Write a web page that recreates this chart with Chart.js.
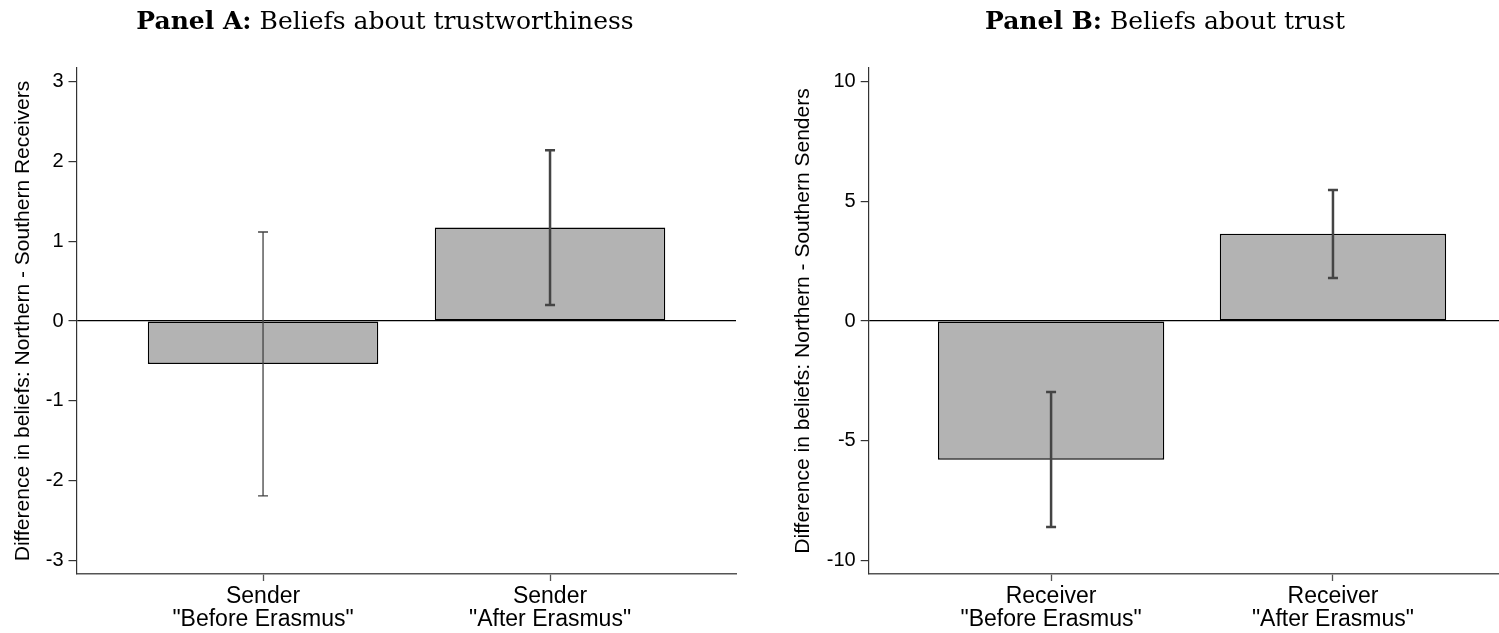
<!DOCTYPE html>
<html><head><meta charset="utf-8">
<script src="https://cdn.jsdelivr.net/npm/chart.js@4.4.1/dist/chart.umd.min.js"></script>
<style>
html,body{margin:0;padding:0;background:#fff;}
#wrap{position:relative;width:1499px;height:633px;overflow:hidden;background:#fff;}
canvas{position:absolute;top:0;}
</style></head><body>
<div id="wrap">
<canvas id="cA" width="750" height="633" style="left:0px;width:750px;height:633px"></canvas>
<canvas id="cB" width="749" height="633" style="left:750px;width:749px;height:633px"></canvas>
</div>
<script>
// ---- data ----
const positions = [1, 2];
const categoriesA = [["Sender", "\"Before Erasmus\""], ["Sender", "\"After Erasmus\""]];
const categoriesB = [["Receiver", "\"Before Erasmus\""], ["Receiver", "\"After Erasmus\""]];
const valuesA = [-0.54, 1.17];
const ciLowA = [-2.19, 0.20];
const ciHighA = [1.115, 2.14];
const valuesB = [-5.80, 3.65];
const ciLowB = [-8.61, 1.80];
const ciHighB = [-2.97, 5.47];
const yTicksA = [-3, -2, -1, 0, 1, 2, 3];
const yTicksB = [-10, -5, 0, 5, 10];
const titleA = ["Panel A:", " Beliefs about trustworthiness"];
const titleB = ["Panel B:", " Beliefs about trust"];
const yTitleA = "Difference in beliefs: Northern - Southern Receivers";
const yTitleB = "Difference in beliefs: Northern - Southern Senders";

// ---- plugins ----
const errorBarPlugin = {
  id: 'errbars',
  afterDatasetsDraw(chart, args, opts) {
    const ctx = chart.ctx, xs = chart.scales.x, ys = chart.scales.y;
    opts.lo.forEach((lo, i) => {
      const x = xs.getPixelForValue(positions[i]);
      const y1 = ys.getPixelForValue(lo), y2 = ys.getPixelForValue(opts.hi[i]);
      ctx.save();
      ctx.strokeStyle = opts.color;
      ctx.lineWidth = opts.widths[i];
      ctx.lineCap = 'butt';
      ctx.beginPath();
      ctx.moveTo(x, y1); ctx.lineTo(x, y2);
      ctx.moveTo(x - opts.cap, y1); ctx.lineTo(x + opts.cap, y1);
      ctx.moveTo(x - opts.cap, y2); ctx.lineTo(x + opts.cap, y2);
      ctx.stroke();
      ctx.restore();
    });
  }
};
const panelTitlePlugin = {
  id: 'ptitle',
  afterDraw(chart, args, opts) {
    const ctx = chart.ctx;
    ctx.save();
    const fb = 'bold ' + opts.size + 'px "DejaVu Serif"';
    const fr = opts.size + 'px "DejaVu Serif"';
    ctx.font = fb; const wb = ctx.measureText(opts.text[0]).width;
    ctx.font = fr; const wr = ctx.measureText(opts.text[1]).width;
    let x = opts.cx - (wb + wr) / 2;
    ctx.fillStyle = '#000';
    ctx.textBaseline = 'alphabetic';
    ctx.textAlign = 'left';
    ctx.font = fb; ctx.fillText(opts.text[0], x, opts.baseline);
    ctx.font = fr; ctx.fillText(opts.text[1], x + wb, opts.baseline);
    ctx.restore();
  }
};

function makeChart(id, cfg) {
  return new Chart(document.getElementById(id), {
    type: 'bar',
    data: {
      datasets: [{
        data: positions.map((p, i) => ({x: p, y: cfg.values[i]})),
        backgroundColor: '#b3b3b3',
        borderColor: '#000',
        borderWidth: 1.5,
        borderSkipped: false,
        barPercentage: 0.803,
        categoryPercentage: 1.0
      }]
    },
    plugins: [errorBarPlugin, panelTitlePlugin],
    options: {
      responsive: false,
      animation: false,
      events: [],
      layout: {padding: {top: 68, right: cfg.padRight, bottom: 0, left: 0}},
      plugins: {
        legend: {display: false},
        tooltip: {enabled: false},
        title: {display: false},
        errbars: {lo: cfg.lo, hi: cfg.hi, widths: cfg.errWidths, cap: 5, color: '#444'},
        ptitle: {text: cfg.title, cx: cfg.titleX, baseline: 29, size: 25}
      },
      scales: {
        x: {
          type: 'linear',
          offset: false,
          min: cfg.xmin, max: cfg.xmax,
          afterBuildTicks: s => { s.ticks = positions.map(v => ({value: v})); },
          afterFit: s => { s.height = 59; },
          ticks: {
            callback: (v, i) => cfg.cats[i],
            font: {family: '"Liberation Sans", Arial, sans-serif', size: 23, lineHeight: 1.0},
            color: '#000', padding: 4, maxRotation: 0, autoSkip: false
          },
          grid: {offset: false, drawOnChartArea: false, tickLength: 7, tickColor: '#555', tickWidth: 1.3},
          border: {color: '#555', width: 1.6}
        },
        y: {
          type: 'linear',
          min: cfg.ymin, max: cfg.ymax,
          afterBuildTicks: s => { s.ticks = cfg.yticks.map(v => ({value: v})); },
          afterFit: s => { s.width = cfg.axisX; },
          ticks: {
            callback: v => String(v),
            font: {family: '"Liberation Sans", Arial, sans-serif', size: 20},
            color: '#000', padding: 5
          },
          grid: {
            color: c => (c.tick && c.tick.value === 0) ? '#000' : 'rgba(0,0,0,0)',
            lineWidth: 1.2, tickColor: '#333', tickWidth: 1.2, tickLength: 8
          },
          border: {color: '#333', width: 1.2},
          title: {
            display: true, text: cfg.yTitle, color: '#000',
            font: {family: '"Liberation Sans", Arial, sans-serif', size: 21, lineHeight: 1.2},
            padding: {top: cfg.yTitlePad, bottom: 0}
          }
        }
      }
    }
  });
}

makeChart('cA', {
  values: valuesA, lo: ciLowA, hi: ciHighA, errWidths: [1.3, 2.5],
  cats: categoriesA, yticks: yTicksA, ymin: -3.17, ymax: 3.17,
  xmin: 0.35, xmax: 2.648, axisX: 76.5, padRight: 14,
  yTitle: yTitleA, yTitlePad: 10.2, title: titleA, titleX: 385
});
makeChart('cB', {
  values: valuesB, lo: ciLowB, hi: ciHighB, errWidths: [2.5, 2.5],
  cats: categoriesB, yticks: yTicksB, ymin: -10.57, ymax: 10.57,
  xmin: 0.353, xmax: 2.589, axisX: 118.7, padRight: 0,
  yTitle: yTitleB, yTitlePad: 40.4, title: titleB, titleX: 415
});
</script>
</body></html>
